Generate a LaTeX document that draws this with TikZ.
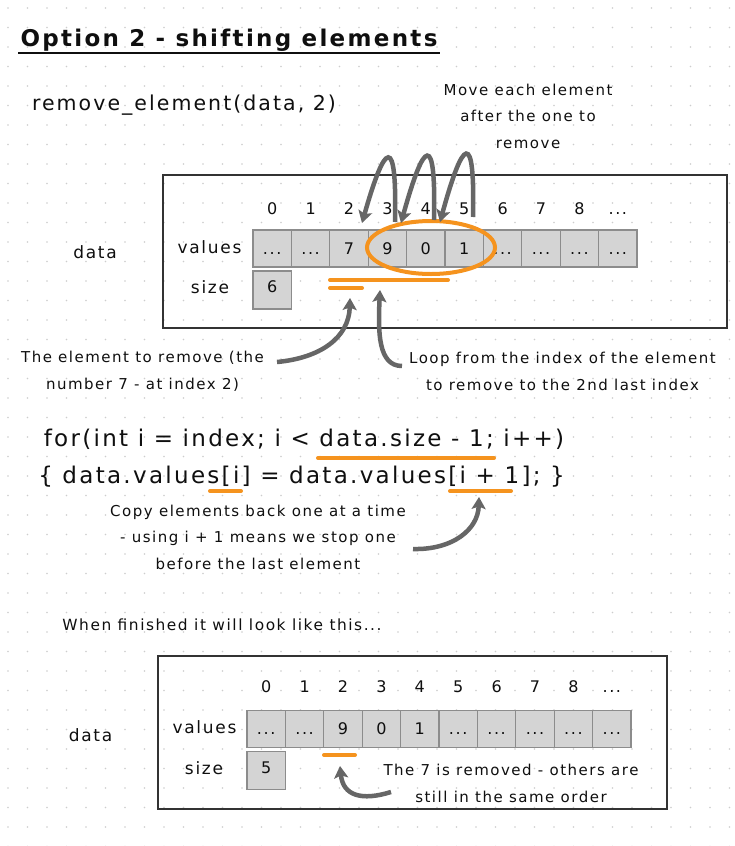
\documentclass[tikz,border=0pt]{standalone}
\usepackage{fontspec}
\setmainfont{DejaVu Sans}
\newfontfamily\hand[LetterSpace=10]{DejaVu Sans}
\usetikzlibrary{arrows.meta,calc}
\definecolor{orng}{RGB}{245,147,30}
\definecolor{arrgray}{RGB}{102,102,102}
\definecolor{cellfill}{RGB}{212,212,212}
\definecolor{celldraw}{RGB}{140,140,140}
\definecolor{dotgray}{RGB}{205,205,205}
\definecolor{ink}{RGB}{15,15,15}
\newcommand\mydots{...}
\tikzset{
  txt/.style={inner sep=0pt, text=ink, font=\hand\fontsize{15}{26.5}\selectfont, align=center, anchor=base},
  labeltxt/.style={inner sep=0pt, text=ink, font=\hand\fontsize{17}{20}\selectfont, anchor=base},
  codetxt/.style={inner sep=0pt, text=ink, font=\hand\fontsize{23}{27}\selectfont, anchor=base},
  idx/.style={inner sep=0pt, text=ink, font=\hand\fontsize{16}{19}\selectfont, anchor=base},
  cellbox/.style={draw=celldraw, fill=cellfill, line width=1.2pt, minimum width=38.4pt, minimum height=37pt, inner sep=0pt, text=ink, font=\hand\fontsize{16}{19}\selectfont, text height=11pt, text depth=0pt},
  sizebox/.style={cellbox, minimum height=38pt, text height=8pt, text depth=3pt},
  frame/.style={draw=ink!85, line width=1.8pt},
  hl/.style={draw=orng, line width=4pt, line cap=round},
  pointer/.style={draw=arrgray, line width=4.5pt, -{Stealth[length=12pt,width=14pt,inset=2.5pt]}},
}
\begin{document}
\begin{tikzpicture}[x=1pt,y=-1pt]
\useasboundingbox (0,0) rectangle (735,846);
\fill[white] (0,0) rectangle (735,846);
\foreach \i in {0,...,37}
  \foreach \j in {0,...,43}
    \fill[dotgray] ({8+19.5*\i},{8+19.5*\j}) circle (0.9pt);

% title
\node[txt, font=\hand\bfseries\fontsize{23}{27}\selectfont] (title) at (229,46) {Option 2 - shifting elements};
\draw[ink, line width=2.2pt] ($(title.base west)+(-2,7)$) -- ($(title.base east)+(2,7)$);

\node[codetxt, font=\hand\fontsize{20.5}{24}\selectfont] (call) at (184,110) {remove\_element(data, 2)};

% multi-line nodes: base anchor is the baseline of the last line
\node[txt] (move) at (528,148) {Move each element\\after the one to\\remove};

% top structure
\draw[frame] (163,175) rectangle (727,328);
\node[labeltxt] (adata) at (95,258) {data};
\node[labeltxt] (avals) at (209.5,253) {values};
\node[labeltxt] (asize) at (210,293) {size};
\foreach \v [count=\k from 0] in {\mydots,\mydots,7,9,0,1,\mydots,\mydots,\mydots,\mydots}
  \node[cellbox] (a\k) at ({253+38.4*(\k+0.5)},248.5) {\v};
\foreach \lab [count=\k from 0] in {0,1,2,3,4,5,6,7,8,\mydots}
  \node[idx] (ai\k) at ({253+38.4*(\k+0.5)},214) {\lab};
\node[sizebox] (as) at (272.2,290) {6};

\draw[orng, line width=4pt] (431,247.5) ellipse [x radius=64, y radius=26.5];
\draw[hl] (330,280) -- (448,280);
\draw[hl] (330,288) -- (362,288);

% hook arrows
\coordinate (t1) at (395,222); \coordinate (h1) at (362,223);
\coordinate (t2) at (434,220); \coordinate (h2) at (401,223);
\coordinate (t3) at (473,217); \coordinate (h3) at (440,222);
\draw[pointer] (t1) .. controls (397,132) and (385,142) .. (h1);
\draw[pointer] (t2) .. controls (436,130) and (424,140) .. (h2);
\draw[pointer] (t3) .. controls (475,128) and (463,138) .. (h3);

% annotations
\node[txt] (remtxt) at (142.5,389) {The element to remove (the\\number 7 - at index 2)};
\node[txt] (looptxt) at (562.5,390) {Loop from the index of the element\\to remove to the 2nd last index};
\coordinate (p1t) at (277,362); \coordinate (p1h) at (350,298);
\coordinate (p2t) at (402,366); \coordinate (p2h) at (380,290);
\draw[pointer] (p1t) .. controls (320,358) and (349,338) .. (p1h);
\draw[pointer] (p2t) .. controls (378,366) and (378,332) .. (p2h);

% code
\node[codetxt] (code1) at (304,446) {for(int i = index; i < data.size - 1; i++)};
\node[codetxt] (code2) at (301.5,483) {\{ data.values[i] = data.values[i + 1]; \}};
\draw[hl] (318,458) -- (494,458);
\draw[hl] (210,491) -- (241,491);
\draw[hl] (450,491) -- (511,491);

\node[txt] (copytxt) at (258,569) {Copy elements back one at a time\\- using i + 1 means we stop one\\before the last element};
\coordinate (p3t) at (413,549); \coordinate (p3h) at (479,497);
\draw[pointer] (p3t) .. controls (452,550) and (478,530) .. (p3h);

\node[txt, font=\hand\fontsize{15.4}{26.5}\selectfont] (when) at (222,630) {When finished it will look like this...};

% bottom structure
\draw[frame] (158,656) rectangle (667,809);
\node[labeltxt] (bdata) at (90.5,741) {data};
\node[labeltxt] (bvals) at (204.5,733) {values};
\node[labeltxt] (bsize) at (204,774) {size};
\foreach \v [count=\k from 0] in {\mydots,\mydots,9,0,1,\mydots,\mydots,\mydots,\mydots,\mydots}
  \node[cellbox] (b\k) at ({247+38.4*(\k+0.5)},729) {\v};
\foreach \lab [count=\k from 0] in {0,1,2,3,4,5,6,7,8,\mydots}
  \node[idx] (bi\k) at ({247+38.4*(\k+0.5)},692) {\lab};
\node[sizebox] (bs) at (266.2,770.5) {5};
\draw[hl] (324,755) -- (355,755);

\node[txt] (donetxt) at (511,802) {The 7 is removed - others are\\still in the same order};
\coordinate (p4t) at (391,792); \coordinate (p4h) at (340,766);
\draw[pointer] (p4t) .. controls (362,801) and (343,796) .. (p4h);
\end{tikzpicture}
\end{document}
